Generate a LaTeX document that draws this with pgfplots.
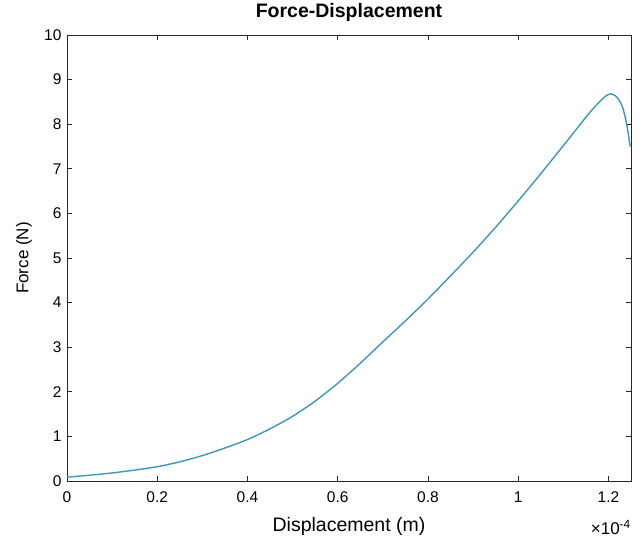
\documentclass[border=0pt]{standalone}
\usepackage{fontspec}
\setmainfont{Liberation Sans}
\usepackage{pgfplots}
\pgfplotsset{compat=1.18}
\definecolor{lineblue}{RGB}{62,150,190}
\definecolor{axgray}{RGB}{38,38,38}

\begin{document}
\begin{tikzpicture}
  \useasboundingbox (0pt,0pt) rectangle (644pt,539pt);
  \begin{axis}[
      name=fd,
      at={(67pt,58pt)}, anchor=south west,
      scale only axis,
      width=564pt, height=446pt,
      xmin=0, xmax=1.25e-4,
      ymin=0, ymax=10,
      xtick={0,2e-5,4e-5,6e-5,8e-5,1e-4,1.2e-4},
      ytick={0,1,...,10},
      scaled x ticks=base 10:4,
      xtick scale label code/.code={},
      /pgf/number format/assume math mode=true,
      tick align=inside,
      major tick length=5pt,
      axis line style={axgray, line width=0.8pt},
      tick style={axgray, line width=0.8pt},
      tick label style={font=\fontsize{15.5}{18}\selectfont, text=black},
      xticklabel style={yshift=-7pt},
      yticklabel style={xshift=-2pt},
      title={\textbf{Force-Displacement}},
      title style={font=\fontsize{19.5}{22}\selectfont, at={(axis description cs:0.5,1)},
        anchor=center, yshift=17pt},
      xlabel={Displacement (m)},
      ylabel={Force (N)},
      xlabel style={font=\fontsize{19.5}{22}\selectfont,
        at={(axis description cs:0.5,0)}, anchor=center, yshift=-45pt},
      ylabel style={font=\fontsize{17}{20}\selectfont,
        at={(axis description cs:0,0.5)}, anchor=center, yshift=43pt},
    ]

    \addplot[lineblue, line width=1.4pt, smooth, tension=0.4] coordinates {
      (0,      0.085)
      (0.05e-4,0.13)
      (0.1e-4, 0.18)
      (0.15e-4,0.245)
      (0.2e-4, 0.32)
      (0.25e-4,0.43)
      (0.3e-4, 0.57)
      (0.35e-4,0.74)
      (0.4e-4, 0.93)
      (0.45e-4,1.17)
      (0.5e-4, 1.45)
      (0.55e-4,1.79)
      (0.6e-4, 2.19)
      (0.65e-4,2.64)
      (0.7e-4, 3.12)
      (0.75e-4,3.59)
      (0.8e-4, 4.08)
      (0.85e-4,4.6)
      (0.9e-4, 5.13)
      (0.95e-4,5.69)
      (1.0e-4, 6.28)
      (1.05e-4,6.89)
      (1.1e-4, 7.52)
      (1.13e-4,7.9)
      (1.16e-4,8.28)
      (1.18e-4,8.5)
      (1.195e-4,8.64)
      (1.205e-4,8.68)
      (1.215e-4,8.64)
      (1.225e-4,8.52)
      (1.232e-4,8.36)
      (1.238e-4,8.12)
      (1.243e-4,7.85)
      (1.248e-4,7.5)
    };

  \end{axis}
  % multiplier of the x ticks, as MATLAB prints it
  \node[anchor=north east, inner sep=0pt, font=\fontsize{17}{19}\selectfont]
    at ([yshift=-39pt]fd.south east) {×10\textsuperscript{-4}};
\end{tikzpicture}
\end{document}
